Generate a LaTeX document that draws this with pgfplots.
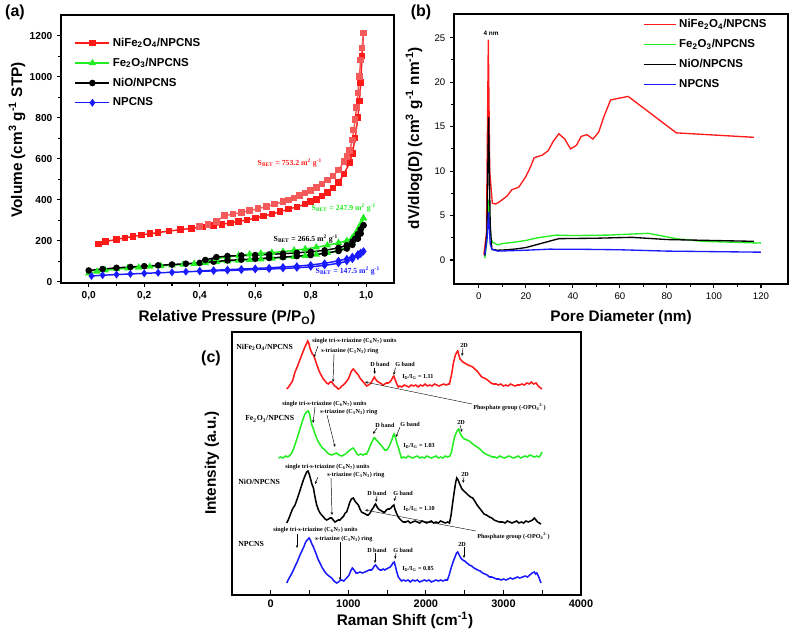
\documentclass[border=0pt]{standalone}
\usepackage{fontspec}
\setmainfont{Liberation Sans}
\newfontfamily\tms{Liberation Serif}
\usepackage{pgfplots}
\pgfplotsset{compat=1.18}
\usetikzlibrary{arrows.meta}
\definecolor{cred}{HTML}{FF1A1A}
\definecolor{cred2}{HTML}{F45A5A}
\definecolor{cgreen}{HTML}{22EE22}
\definecolor{cblue}{HTML}{1A1AFF}

\pgfplotsset{
  panel/.style={scale only axis, anchor=south west,
    axis line style={black, line width=1.4pt}, tick pos=left,
    major tick length=3pt, minor tick length=2pt,
    every tick/.style={black, line width=0.8pt},
    /pgf/number format/assume math mode=true,
    /pgf/number format/1000 sep={},
    legend cell align=left},
}
\newcommand{\lab}{\bfseries\fontsize{11.5}{13}\selectfont}
\newcommand{\ann}{\tms\bfseries\fontsize{4.6}{5}\selectfont}
\newcommand{\sam}{\tms\bfseries\fontsize{5.8}{6}\selectfont}

\begin{document}
\begin{tikzpicture}
\begin{scope}[x=0.75pt,y=-0.75pt]
  \path[use as bounding box] (0,0) rectangle (790,629);
\end{scope}

% ---------------- (a) isotherms
\begin{axis}[panel, at={(61*0.75pt,-283*0.75pt)},
  width=249.75pt, height=201pt,
  xmin=-0.1, xmax=1.1, ymin=-6, ymax=1300,
  xtick={0,0.2,...,1.0}, minor x tick num=1,
  ytick={0,200,...,1200}, minor y tick num=1,
  tick align=outside,
  xticklabel style={/pgf/number format/.cd, use comma, fixed, fixed zerofill, precision=1},
  tick label style={font=\bfseries\fontsize{7.6}{9}\selectfont},
  legend style={draw=none, fill=none, at={(0.04,0.925)}, anchor=north west,
    font=\bfseries\fontsize{8.6}{10}\selectfont, row sep=3.2pt, inner sep=0pt},
  legend image code/.code={\draw[#1,mark repeat=2,mark phase=2] plot coordinates {(0cm,0cm)(0.45cm,0cm)(0.9cm,0cm)};},
]
  \addplot[cred, line width=1.1pt, mark=square*, mark size=1.9pt] coordinates {
    (0.035,184)(0.06,196)(0.1,207)(0.13,214)(0.16,221)(0.19,228)(0.22,234)(0.25,240)
    (0.29,247)(0.33,254)(0.37,260)(0.41,267)(0.45,274)(0.48,280)(0.51,287)(0.54,294)
    (0.57,301)(0.6,310)(0.63,320)(0.66,330)(0.69,342)(0.72,354)(0.75,365)(0.78,378)
    (0.8,390)(0.82,402)(0.84,418)(0.86,436)(0.88,458)(0.9,485)(0.92,525)(0.94,580)
    (0.95,625)(0.96,700)(0.97,800)(0.975,880)(0.98,970)(0.985,1100)(0.99,1212)};
  \addlegendentry{NiFe\textsubscript{2}O\textsubscript{4}/NPCNS}
  \addplot[cgreen, line width=1.1pt, mark=triangle*, mark size=2.1pt] coordinates {
    (0.0,42)(0.03,50)(0.06,56)(0.1,62)(0.14,66)(0.18,70)(0.22,74)(0.26,77)(0.3,81)
    (0.34,84)(0.38,88)(0.42,92)(0.46,96)(0.5,100)(0.54,104)(0.58,107)(0.62,110)
    (0.66,114)(0.7,118)(0.74,122)(0.78,127)(0.82,133)(0.86,141)(0.9,152)(0.93,168)
    (0.95,190)(0.97,230)(0.98,265)(0.99,310)};
  \addlegendentry{Fe\textsubscript{2}O\textsubscript{3}/NPCNS}
  \addplot[black, line width=1.1pt, mark=*, mark size=1.9pt] coordinates {
    (0.0,55)(0.05,62)(0.1,68)(0.15,72)(0.2,76)(0.25,80)(0.3,84)(0.35,88)(0.4,92)
    (0.45,98)(0.5,104)(0.55,108)(0.6,112)(0.65,116)(0.7,120)(0.75,125)(0.8,130)
    (0.85,138)(0.9,150)(0.93,162)(0.95,180)(0.97,210)(0.98,235)(0.99,275)};
  \addlegendentry{NiO/NPCNS}
  \addplot[cblue, line width=1.1pt, mark=diamond*, mark size=2.1pt] coordinates {
    (0.01,28)(0.05,32)(0.1,35)(0.15,38)(0.2,41)(0.25,44)(0.3,46)(0.35,49)(0.4,51)
    (0.45,53)(0.5,55)(0.55,57)(0.6,60)(0.65,62)(0.7,65)(0.75,68)(0.8,73)(0.85,80)
    (0.9,90)(0.93,100)(0.95,110)(0.97,125)(0.98,135)(0.99,148)};
  \addlegendentry{NPCNS}
  % desorption branches
  \addplot[forget plot, cred2, line width=1.1pt, mark=square*, mark size=1.9pt] coordinates {
    (0.99,1212)(0.985,1140)(0.98,1080)(0.975,1000)(0.97,920)(0.965,850)(0.96,790)
    (0.955,740)(0.95,690)(0.94,640)(0.93,610)(0.92,585)(0.9,545)(0.88,515)(0.86,495)
    (0.84,476)(0.82,460)(0.8,445)(0.78,432)(0.76,420)(0.74,408)(0.72,398)(0.7,390)
    (0.67,378)(0.64,366)(0.61,356)(0.58,347)(0.55,338)(0.52,330)(0.49,322)(0.46,295)
    (0.43,278)(0.40,270)};
  \addplot[forget plot, cgreen, line width=1.1pt, mark=triangle*, mark size=2.1pt] coordinates {
    (0.99,310)(0.98,280)(0.97,255)(0.96,232)(0.95,215)(0.93,200)(0.9,190)(0.86,178)
    (0.82,168)(0.78,160)(0.74,153)(0.7,147)(0.66,142)(0.62,138)(0.58,134)(0.54,128)
    (0.5,122)(0.46,112)(0.42,100)};
  \addplot[forget plot, black, line width=1.1pt, mark=*, mark size=1.9pt] coordinates {
    (0.99,275)(0.98,255)(0.97,232)(0.96,210)(0.95,195)(0.93,178)(0.9,165)(0.85,153)
    (0.8,146)(0.75,141)(0.7,137)(0.65,133)(0.6,130)(0.55,128)(0.5,125)(0.46,120)(0.42,106)};
  \addplot[forget plot, cblue, line width=1.1pt, mark=diamond*, mark size=2.1pt] coordinates {
    (0.99,148)(0.98,142)(0.97,135)(0.95,122)(0.93,112)(0.9,102)(0.85,90)(0.8,82)
    (0.75,76)(0.7,72)(0.65,68)(0.6,65)(0.55,62)(0.5,59)(0.45,56)(0.4,53)};
\end{axis}

% ---------------- (b) pore size distribution
\begin{axis}[panel, at={(454*0.75pt,-284*0.75pt)},
  width=250.5pt, height=202.5pt,
  xmin=-10.6, xmax=131.5, ymin=-2.7, ymax=27.67,
  xtick={0,20,...,120}, minor x tick num=1,
  ytick={0,5,...,25}, minor y tick num=1,
  tick align=outside,
  tick label style={font=\fontsize{7.2}{9}\selectfont},
  legend style={draw=none, fill=none, at={(0.565,0.99)}, anchor=north west,
    font=\bfseries\fontsize{8.6}{10}\selectfont, row sep=3.2pt, inner sep=0pt},
  legend image code/.code={\draw[#1] (0cm,0cm) -- (0.85cm,0cm);},
]
  \addplot[cred, line width=1pt] coordinates {
    (2.1,0.6)(3.2,3)(4.0,24.8)(4.6,10)(5.7,6.4)(7,6.3)(8.5,6.5)(10,6.8)(12,7.2)(14,7.9)
    (17,8.2)(20,9.4)(22,10.5)(23.5,11.5)(27,11.8)(29.5,12.3)(31.5,13.3)(34,14.2)
    (36.5,13.6)(39,12.5)(41.5,12.9)(43.5,13.9)(46,14.1)(48.5,13.6)(51,14.4)(53,16)
    (56,18)(63.5,18.4)(84,14.3)(117,13.8)};
  \addlegendentry{NiFe\textsubscript{2}O\textsubscript{4}/NPCNS}
  \addplot[cgreen, line width=1pt] coordinates {
    (2.5,0.2)(3.4,2)(4.2,6.8)(5,2.5)(5.8,2.0)(8,1.7)(10,1.85)(15,2.0)(20,2.2)(25,2.5)
    (33,2.8)(40,2.75)(55,2.8)(72,3.0)(78,2.7)(84,2.4)(95,2.1)(120,1.9)};
  \addlegendentry{Fe\textsubscript{2}O\textsubscript{3}/NPCNS}
  \addplot[black, line width=1pt] coordinates {
    (2.5,0.5)(3.4,3)(4.1,16.1)(4.8,4)(5.5,1.2)(8,1.1)(12,1.15)(16,1.25)(20,1.4)(27,1.9)
    (34,2.4)(50,2.45)(65,2.55)(80,2.3)(117,2.1)};
  \addlegendentry{NiO/NPCNS}
  \addplot[cblue, line width=1pt] coordinates {
    (2.5,0.6)(3.5,2.5)(4.1,5.4)(4.8,1.8)(5.5,1.2)(8,1.0)(20,1.1)(30,1.22)(45,1.2)
    (60,1.15)(80,1.0)(120,0.88)};
  \addlegendentry{NPCNS}
\end{axis}

% ---------------- (c) Raman
\begin{axis}[panel, at={(232*0.75pt,-595*0.75pt)},
  width=261.75pt, height=197.25pt,
  xmin=-500, xmax=4000, ymin=0, ymax=263,
  xtick={0,1000,...,4000}, minor x tick num=1, ytick=\empty, tick align=inside,
  major tick length=4pt, minor tick length=4pt,
  tick label style={font=\bfseries\fontsize{8.2}{9}\selectfont},
]
  \addplot[cred, line width=1.15pt] coordinates {
    (206,206)(230,208)(255,211)(280,214)(313,223)(340,228)(370,234)(399,240)(420,244)
    (445,249)(465,252)(476,254)(490,252)(505,247)(520,244)(535,241)(550,240)(570,236)
    (590,231)(614,226)(635,222)(656,219)(678,216)(700,214)(720,212)(743,211)(765,213)
    (785,213)(805,211)(824,209)(845,208)(871,206)(895,207)(915,209)(936,210)(960,212)
    (980,214)(1000,216)(1020,220)(1040,224)(1064,226)(1085,224)(1105,222)(1129,220)
    (1150,217)(1170,215)(1193,213)(1215,211)(1236,209)(1258,210)(1278,211)(1300,213)
    (1320,216)(1335,218)(1350,216)(1370,214)(1386,213)(1410,212)(1430,211)(1450,210)
    (1470,211)(1490,212)(1515,212)(1535,213)(1555,215)(1575,218)(1587,219)(1600,216)
    (1620,212)(1644,208)(1665,209)(1690,208)(1720,210)(1750,209)(1780,208)(1810,210)
    (1840,209)(1870,210)(1900,208)(1930,210)(1960,209)(1990,211)(2020,209)(2050,210)
    (2080,209)(2110,211)(2140,210)(2170,209)(2200,210)(2230,211)(2260,210)(2290,211)
    (2304,211)(2330,220)(2355,232)(2380,240)(2400,243)(2411,244)(2425,240)(2440,236)
    (2454,235)(2475,233)(2500,232)(2519,231)(2545,230)(2575,229)(2604,228)(2630,226)
    (2660,224)(2690,221)(2720,218)(2750,217)(2776,216)(2810,214)(2840,212)(2870,211)
    (2905,211)(2935,210)(2965,211)(3000,209)(3030,210)(3060,209)(3090,211)(3120,210)
    (3150,209)(3180,210)(3205,210)(3240,211)(3270,210)(3300,212)(3333,211)(3360,213)
    (3390,211)(3420,212)(3440,210)(3460,208)(3480,207)(3497,206)};
  \addplot[cgreen, line width=1.15pt] coordinates {
    (99,137)(130,138)(160,137)(190,139)(220,138)(250,140)(270,142)(292,146)(315,151)
    (340,157)(360,162)(377,166)(400,172)(420,177)(441,181)(460,183)(485,184)(500,181)
    (515,175)(530,170)(550,166)(570,161)(590,157)(614,153)(640,150)(665,147)(699,145)
    (720,143)(750,141)(785,140)(815,141)(849,142)(880,140)(914,139)(940,140)(965,141)
    (990,143)(1020,145)(1040,146)(1064,147)(1090,144)(1110,141)(1129,140)(1160,141)
    (1190,140)(1214,141)(1236,141)(1260,145)(1285,150)(1310,154)(1330,157)(1343,157)
    (1360,155)(1385,153)(1407,151)(1430,149)(1450,147)(1470,145)(1493,145)(1515,147)
    (1540,151)(1565,156)(1580,160)(1592,161)(1610,157)(1625,152)(1644,148)(1665,142)
    (1686,137)(1710,138)(1740,137)(1770,139)(1800,138)(1830,137)(1860,138)(1890,139)
    (1920,137)(1950,138)(1980,137)(2010,139)(2040,138)(2070,137)(2100,138)(2130,139)
    (2160,137)(2190,138)(2220,137)(2250,139)(2280,138)(2310,139)(2330,143)(2347,150)
    (2370,158)(2395,163)(2410,165)(2424,166)(2440,162)(2460,159)(2480,157)(2497,156)
    (2530,155)(2560,154)(2604,151)(2640,149)(2680,147)(2710,145)(2733,143)(2770,141)
    (2800,140)(2830,139)(2861,138)(2890,138)(2920,137)(2950,139)(2980,138)(3010,137)
    (3040,138)(3070,139)(3100,138)(3130,137)(3160,138)(3190,139)(3220,137)(3250,138)
    (3280,139)(3310,138)(3340,140)(3370,139)(3400,138)(3430,139)(3460,138)(3480,140)(3497,143)};
  \addplot[black, line width=1.15pt] coordinates {
    (206,72)(230,76)(255,81)(280,86)(313,90)(340,96)(370,103)(399,110)(420,115)(440,119)
    (463,123)(480,124)(495,121)(510,117)(530,111)(550,107)(570,98)(592,90)(615,85)
    (635,82)(656,80)(680,78)(700,76)(721,75)(745,76)(765,77)(785,77)(805,75)(828,73)
    (850,74)(870,75)(892,75)(915,77)(940,79)(960,82)(978,83)(1000,88)(1020,93)(1040,96)
    (1064,97)(1085,94)(1105,92)(1129,90)(1150,86)(1170,83)(1193,82)(1220,81)(1240,80)
    (1257,80)(1280,82)(1300,85)(1320,87)(1340,90)(1351,91)(1370,88)(1390,86)(1407,85)
    (1430,84)(1450,83)(1471,83)(1490,85)(1510,86)(1530,86)(1550,87)(1570,89)(1587,90)
    (1600,86)(1620,82)(1644,78)(1665,76)(1690,74)(1708,73)(1740,73)(1770,74)(1800,72)
    (1830,73)(1860,74)(1890,73)(1920,72)(1950,74)(1980,73)(2010,72)(2040,73)(2070,74)
    (2100,72)(2130,73)(2160,72)(2190,74)(2220,73)(2250,72)(2280,73)(2304,72)(2325,80)
    (2345,92)(2365,103)(2385,113)(2398,117)(2415,115)(2441,110)(2465,106)(2490,104)
    (2519,102)(2545,100)(2575,98)(2604,97)(2630,94)(2660,90)(2690,87)(2720,84)(2750,81)
    (2780,80)(2819,78)(2850,77)(2880,75)(2910,74)(2950,73)(2990,73)(3020,72)(3050,74)
    (3080,73)(3110,72)(3140,73)(3170,74)(3200,72)(3230,73)(3260,72)(3290,74)(3320,73)
    (3350,74)(3375,75)(3398,77)(3420,75)(3440,73)(3462,72)(3485,71)};
  \addplot[cblue, line width=1.15pt] coordinates {
    (206,12)(230,16)(260,20)(292,25)(315,29)(340,33)(377,40)(400,44)(425,48)(450,53)
    (470,55)(493,57)(510,55)(530,51)(550,48)(570,44)(590,40)(614,35)(640,31)(665,27)
    (699,23)(720,21)(750,19)(785,17)(815,14)(849,12)(875,13)(900,15)(914,15)(940,14)
    (965,16)(990,18)(1010,20)(1030,24)(1051,27)(1075,25)(1100,22)(1120,22)(1150,23)
    (1180,22)(1214,23)(1240,24)(1270,25)(1300,25)(1320,27)(1335,29)(1351,30)(1370,28)
    (1390,26)(1410,25)(1429,25)(1450,26)(1470,25)(1490,26)(1515,27)(1540,28)(1560,30)
    (1575,32)(1592,33)(1610,28)(1625,23)(1644,18)(1665,16)(1686,14)(1710,15)(1740,14)
    (1770,15)(1800,13)(1830,15)(1860,14)(1890,15)(1920,13)(1950,14)(1980,15)(2010,14)
    (2040,15)(2070,13)(2100,14)(2130,15)(2160,14)(2190,15)(2220,14)(2250,15)(2278,15)
    (2300,20)(2325,27)(2350,33)(2375,38)(2395,42)(2411,43)(2430,40)(2450,37)(2475,35)
    (2500,34)(2530,32)(2561,30)(2590,29)(2620,27)(2645,26)(2668,25)(2700,24)(2730,22)
    (2760,21)(2790,20)(2819,18)(2850,18)(2880,17)(2910,16)(2940,16)(2970,15)(3000,16)
    (3033,15)(3060,16)(3090,17)(3120,16)(3150,17)(3180,18)(3210,17)(3247,18)(3280,19)
    (3310,18)(3340,20)(3370,22)(3398,23)(3415,21)(3430,22)(3450,19)(3470,15)(3484,12)};
\end{axis}

% ---------------- frames and texts, in pixel units of the reference
\begin{scope}[x=0.75pt,y=-0.75pt, arr/.style={-{Stealth[length=2.2pt,width=1.8pt]}, line width=0.35pt}]
  \draw[line width=1.4pt] (61,15) rectangle (394,283);
  \draw[line width=1.4pt] (454,14) rectangle (788,284);
  \draw[line width=1.4pt] (232,332) rectangle (581,595);
  % panel letters
  \node[font=\bfseries\fontsize{12}{14}\selectfont] at (15,12) {(a)};
  \node[font=\bfseries\fontsize{12}{14}\selectfont] at (421,12) {(b)};
  \node[font=\bfseries\fontsize{12}{14}\selectfont] at (211,358) {(c)};
  % axis titles
  \node[font=\lab, rotate=90] at (17,140) {Volume (cm\textsuperscript{3} g\textsuperscript{-1} STP)};
  \node[font=\lab] at (227,318) {Relative Pressure (P/P\textsubscript{O})};
  \node[font=\lab, rotate=90] at (414,138) {dV/dlog(D) (cm\textsuperscript{3} g\textsuperscript{-1} nm\textsuperscript{-1})};
  \node[font=\lab] at (621,318) {Pore Diameter (nm)};
  \node[font=\lab, rotate=90] at (212,463) {Intensity (a.u.)};
  \node[font=\lab] at (405,620) {Raman Shift (cm\textsuperscript{-1})};
  % (a) surface areas
  \node[anchor=west, text=cred, font=\sam] at (253,163) {S\textsubscript{BET} = 753.2 m\textsuperscript{2} g\textsuperscript{-1}};
  \node[anchor=west, text=cgreen, font=\sam] at (307,208) {S\textsubscript{BET} = 247.9 m\textsuperscript{2} g\textsuperscript{-1}};
  \node[anchor=west, text=black, font=\sam] at (269,239) {S\textsubscript{BET} = 266.5 m\textsuperscript{2} g\textsuperscript{-1}};
  \node[anchor=west, text=cblue, font=\sam] at (311,271) {S\textsubscript{BET} = 147.5 m\textsuperscript{2} g\textsuperscript{-1}};
  % (b)
  \node[font=\bfseries\fontsize{4.8}{5}\selectfont] at (491,33) {4 nm};
  % (c) red
  \node[anchor=west, font=\sam, inner sep=0pt] at (236,347) {NiFe\textsubscript{2}O\textsubscript{4}/NPCNS};
  \node[anchor=west, font=\ann, inner sep=0pt] at (312,341) {single tri-s-triazine (C\textsubscript{6}N\textsubscript{7}) units};
  \node[anchor=west, font=\ann, inner sep=0pt] at (321,351) {s-triazine (C\textsubscript{3}N\textsubscript{3}) ring};
  \draw[arr] (318,346) -- (314,357);
  \draw[arr] (334,354) -- (333,382);
  \node[anchor=west, font=\ann, inner sep=0pt] at (370,364) {D band};
  \draw[arr] (374.7,367.5) -- (374.7,374);
  \node[anchor=west, font=\ann, inner sep=0pt] at (395,364) {G band};
  \draw[arr] (395.5,367.5) -- (393.7,375);
  \node[anchor=west, font=\ann, inner sep=0pt] at (402,377) {I\textsubscript{D}/I\textsubscript{G} = 1.11};
  \node[anchor=west, font=\ann, inner sep=0pt] at (460,345) {2D};
  \draw[arr] (463,348) -- (462,356);
  \draw[{Stealth[length=2.2pt,width=1.8pt]}-, line width=0.3pt] (365,382) -- (472,404);
  \node[anchor=west, font=\ann, inner sep=0pt] at (473,407) {Phosphate group (-OPO\textsubscript{4}\textsuperscript{2-})};
  % (c) green
  \node[anchor=west, font=\ann, inner sep=0pt] at (282,404) {single tri-s-triazine (C\textsubscript{6}N\textsubscript{7}) units};
  \node[anchor=west, font=\ann, inner sep=0pt] at (320,412) {s-triazine (C\textsubscript{3}N\textsubscript{3}) ring};
  \node[anchor=west, font=\sam, inner sep=0pt] at (245,419) {Fe\textsubscript{2}O\textsubscript{3}/NPCNS};
  \draw[arr] (315,407) -- (313,423);
  \draw[arr] (327,415) -- (335,447);
  \node[anchor=west, font=\ann, inner sep=0pt] at (375,425) {D band};
  \draw[arr] (377,428) -- (373,434);
  \node[anchor=west, font=\ann, inner sep=0pt] at (400,424) {G band};
  \draw[arr] (400,427) -- (396,437);
  \node[anchor=west, font=\ann, inner sep=0pt] at (403,446) {I\textsubscript{D}/I\textsubscript{G} = 1.03};
  \node[anchor=west, font=\ann, inner sep=0pt] at (457,422) {2D};
  \draw[arr] (460,425) -- (462,432);
  % (c) black
  \node[anchor=west, font=\ann, inner sep=0pt] at (285,467) {single tri-s-triazine (C\textsubscript{6}N\textsubscript{7}) units};
  \node[anchor=west, font=\ann, inner sep=0pt] at (327,475) {s-triazine (C\textsubscript{3}N\textsubscript{3}) ring};
  \node[anchor=west, font=\sam, inner sep=0pt] at (238,482) {NiO/NPCNS};
  \draw[arr] (318,477) -- (315,484);
  \draw[arr] (331,478) -- (332,515);
  \node[anchor=west, font=\ann, inner sep=0pt] at (367,493) {D band};
  \draw[arr] (377,496) -- (376,502);
  \node[anchor=west, font=\ann, inner sep=0pt] at (393,493) {G band};
  \draw[arr] (396,496) -- (394,501);
  \node[anchor=west, font=\ann, inner sep=0pt] at (403,509) {I\textsubscript{D}/I\textsubscript{G} = 1.10};
  \node[anchor=west, font=\ann, inner sep=0pt] at (461,474) {2D};
  \draw[arr] (464,477) -- (463,483);
  \draw[{Stealth[length=2.2pt,width=1.8pt]}-, line width=0.3pt] (365,510) -- (476,531);
  \node[anchor=west, font=\ann, inner sep=0pt] at (477,536) {Phosphate group (-OPO\textsubscript{4}\textsuperscript{2-})};
  % (c) blue
  \node[anchor=west, font=\ann, inner sep=0pt] at (273,530) {single tri-s-triazine (C\textsubscript{6}N\textsubscript{7}) units};
  \node[anchor=west, font=\ann, inner sep=0pt] at (315,539) {s-triazine (C\textsubscript{3}N\textsubscript{3}) ring};
  \node[anchor=west, font=\sam, inner sep=0pt] at (238,544) {NPCNS};
  \draw[arr] (297,534) -- (297,548);
  \draw[arr] (340,542) -- (340,580);
  \node[anchor=west, font=\ann, inner sep=0pt] at (367,550) {D band};
  \draw[arr] (375,553) -- (375,563);
  \node[anchor=west, font=\ann, inner sep=0pt] at (393,550) {G band};
  \draw[arr] (396,553) -- (395,559);
  \node[anchor=west, font=\ann, inner sep=0pt] at (402,569) {I\textsubscript{D}/I\textsubscript{G} = 0.85};
  \node[anchor=west, font=\ann, inner sep=0pt] at (458,544) {2D};
  \draw[arr] (464,547) -- (464,558);
\end{scope}
\end{tikzpicture}
\end{document}
